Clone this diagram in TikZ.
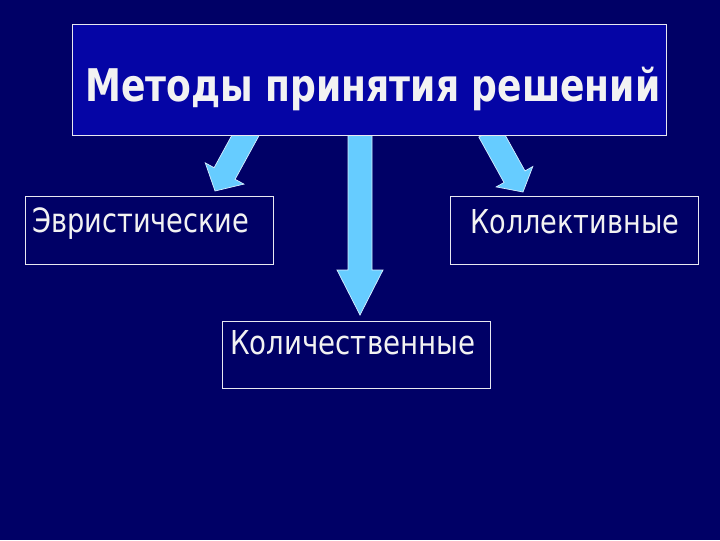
\documentclass[tikz,border=0pt]{standalone}
\usepackage{fontspec}
\setmainfont{DejaVu Sans}
\usepackage{graphicx}
\definecolor{bgnavy}{HTML}{000066}
\definecolor{titlefill}{HTML}{0505A5}
\definecolor{arrowfill}{HTML}{66CCFF}
\definecolor{arrowline}{HTML}{D8F0FF}
\definecolor{boxline}{HTML}{E8E8F0}
\definecolor{txt}{HTML}{F2F2F2}
\tikzset{
  box/.style={draw=boxline, line width=0.6pt, fill=bgnavy, inner sep=0pt, anchor=center},
  titlebox/.style={draw=boxline, line width=0.6pt, fill=titlefill, inner sep=0pt, anchor=center},
  lbl/.style={inner sep=0pt, anchor=base west, text=txt},
  blockarrow/.style={fill=arrowfill, draw=arrowline, line width=0.5pt, line join=miter}
}
\begin{document}
\begin{tikzpicture}[x=0.025cm, y=-0.025cm]
\fill[bgnavy] (0,0) rectangle (720,540);
\useasboundingbox (0,0) rectangle (720,540);
% arrows (drawn first, tops hidden by the title box)
\draw[blockarrow] (215,191) -- (243.9,184.1) -- (235.1,179.3) -- (263.9,126.7) -- (242.9,115.1) -- (214.1,167.7) -- (205.3,162.9) -- cycle;
\draw[blockarrow] (360,315) -- (383,270) -- (372,270) -- (372,120) -- (348,120) -- (348,270) -- (337,270) -- cycle;
\draw[blockarrow] (523,192) -- (532.8,166.5) -- (525,170.9) -- (499.8,125.5) -- (478.8,137.1) -- (504,182.5) -- (496.2,186.9) -- cycle;
% title
\node[titlebox, minimum width=14.85cm, minimum height=2.775cm] (title) at (369,79.5) {};
\node[lbl] (titletxt) at (85,101) {\resizebox{14.375cm}{0.86cm}{\bfseries Методы принятия решений}};
% boxes
\node[box, minimum width=6.2cm, minimum height=1.7cm] (heur) at (149,230) {};
\node[box, minimum width=6.2cm, minimum height=1.7cm] (coll) at (574,230) {};
\node[box, minimum width=6.7cm, minimum height=1.675cm] (quant) at (356,355) {};
% labels
\node[lbl] (heurtxt) at (32,232) {\resizebox{5.425cm}{0.62cm}{Эвристические}};
\node[lbl] (colltxt) at (470,233) {\resizebox{5.225cm}{0.6cm}{Коллективные}};
\node[lbl] (quanttxt) at (230,354) {\resizebox{6.125cm}{0.6cm}{Количественные}};
\end{tikzpicture}
\end{document}
